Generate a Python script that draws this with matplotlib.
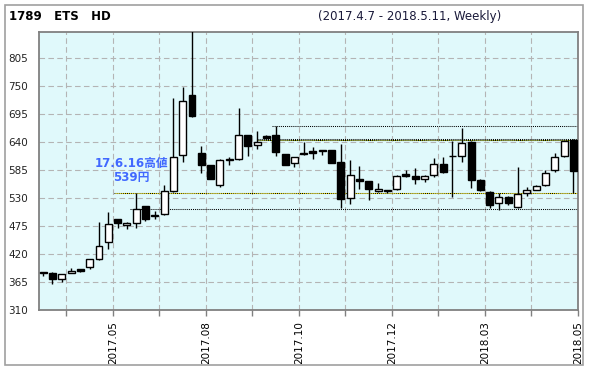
import numpy as np
import pandas as pd
import matplotlib
matplotlib.use('Agg')
import matplotlib.pyplot as plt
from matplotlib.patches import Rectangle

# weekly candles 2017.4.7 - 2018.5.11
dates = pd.date_range('2017-04-07', '2018-05-11', freq='W-FRI')

opens = [384, 382, 371, 383, 390, 394, 411, 443, 488, 476,
         481, 514, 495, 499, 544, 615, 732, 619, 594, 556,
         605, 606, 653, 635, 652, 653, 616, 598, 618, 622,
         623, 624, 600, 529, 567, 563, 543, 545, 547, 577,
         573, 568, 576, 596, 612, 612, 640, 566, 541, 521,
         531, 513, 540, 546, 556, 584, 613, 643]
highs = [384, 385, 381, 392, 391, 411, 482, 502, 489, 483,
         539, 515, 504, 555, 727, 747, 870, 632, 595, 606,
         611, 706, 654, 661, 654, 672, 617, 611, 639, 630,
         625, 625, 637, 604, 593, 564, 559, 546, 575, 584,
         588, 575, 609, 611, 642, 667, 642, 568, 544, 540,
         533, 590, 551, 556, 585, 619, 642, 646]
lows = [376, 362, 365, 382, 385, 391, 409, 430, 471, 469,
        472, 485, 488, 497, 541, 600, 690, 579, 567, 551,
        594, 605, 613, 627, 646, 613, 594, 591, 615, 606,
        614, 598, 511, 519, 547, 527, 542, 540, 546, 571,
        557, 562, 571, 580, 532, 601, 550, 543, 511, 507,
        516, 511, 534, 545, 554, 581, 611, 540]
closes = [382, 371, 380, 387, 387, 410, 435, 478, 480, 481,
          508, 488, 496, 543, 610, 720, 691, 595, 568, 605,
          606, 653, 633, 640, 648, 620, 595, 610, 616, 619,
          624, 599, 528, 576, 564, 547, 547, 544, 573, 574,
          567, 574, 596, 581, 613, 638, 565, 546, 516, 531,
          521, 537, 545, 553, 580, 610, 641, 583]

y_ticks = [310, 365, 420, 475, 530, 585, 640, 695, 750, 805]
x_tick_pos = [2.5, 7.5, 12.5, 17.5, 22.5, 27.5, 32.5, 37.5, 42.5, 47.5, 52.5, 57.5]
x_tick_labels = ['', '2017.05', '', '2017.08', '', '2017.10', '', '2017.12', '', '2018.03', '', '2018.05']

# ref lines: (price, start index, colour)
ref_lines = [(672, 24.6, 'black'), (646, 23.0, 'black'), (643, 23.0, '#8c9a00'),
             (539, 7.6, '#f0dc00'), (508, 9.3, 'black')]

fig = plt.figure(figsize=(5.9, 3.71), dpi=100)
W, H = 590, 371
ax = fig.add_axes([39 / W, (H - 310) / H, (578 - 39) / W, (310 - 32) / H])
ax.set_facecolor('#e0f9fb')

# outer frame
fig.patches.append(Rectangle((5 / W, (H - 365) / H), 578 / W, 360 / H, transform=fig.transFigure,
                             fill=False, edgecolor='#a0a0a0', lw=1.2))

fig.text(9 / W, (H - 20) / H, '1789   ETS   HD', fontsize=8.5, fontweight='bold', va='baseline')
fig.text(318 / W, (H - 20) / H, '(2017.4.7 - 2018.5.11, Weekly)', fontsize=8.5,
         color='#1a1a3a', va='baseline')

x = np.arange(len(dates))
for i in x:
    o, h, l, c = opens[i], highs[i], lows[i], closes[i]
    ax.vlines(i, l, h, color='black', lw=1.0, zorder=3)
    face = 'white' if c >= o else 'black'
    ax.bar(i, max(abs(c - o), 0.6), bottom=min(o, c), width=0.75, color=face,
           edgecolor='black', lw=1.0, zorder=4)

for price, start, col in ref_lines:
    ax.plot([start, 57.5], [price, price], color='black', lw=0.75, ls=(0, (1, 1)), zorder=2)
    if col != 'black':
        ax.plot([start, 57.5], [price, price], color=col, lw=0.75, ls=(1, (1, 1)), zorder=2)

ax.text(9.45, 584, '17.6.16高値\n539円', ha='center', va='center', multialignment='center',
        fontsize=8.5, fontweight='bold', color='#4169ff', linespacing=1.15,
        family=['DejaVu Sans', 'Noto Sans CJK JP'], zorder=5)

ax.set_xlim(-0.45, 57.5)
ax.set_ylim(310, 856)
ax.set_yticks(y_ticks)
ax.set_yticklabels([str(v) for v in y_ticks])
ax.set_xticks(x_tick_pos)
ax.set_xticklabels(x_tick_labels, rotation=90)
ax.tick_params(axis='y', length=0, pad=8, labelsize=7.5, colors='#222222')
ax.tick_params(axis='x', length=4, width=1, pad=4, labelsize=7.5, color='#808080')
ax.grid(True, color='#b4b4b4', lw=0.8, ls=(0, (5, 3)), zorder=1)
ax.set_axisbelow(True)
for s in ax.spines.values():
    s.set_color('#808080')
    s.set_linewidth(1.3)

fig.savefig('out.png', dpi=100)
